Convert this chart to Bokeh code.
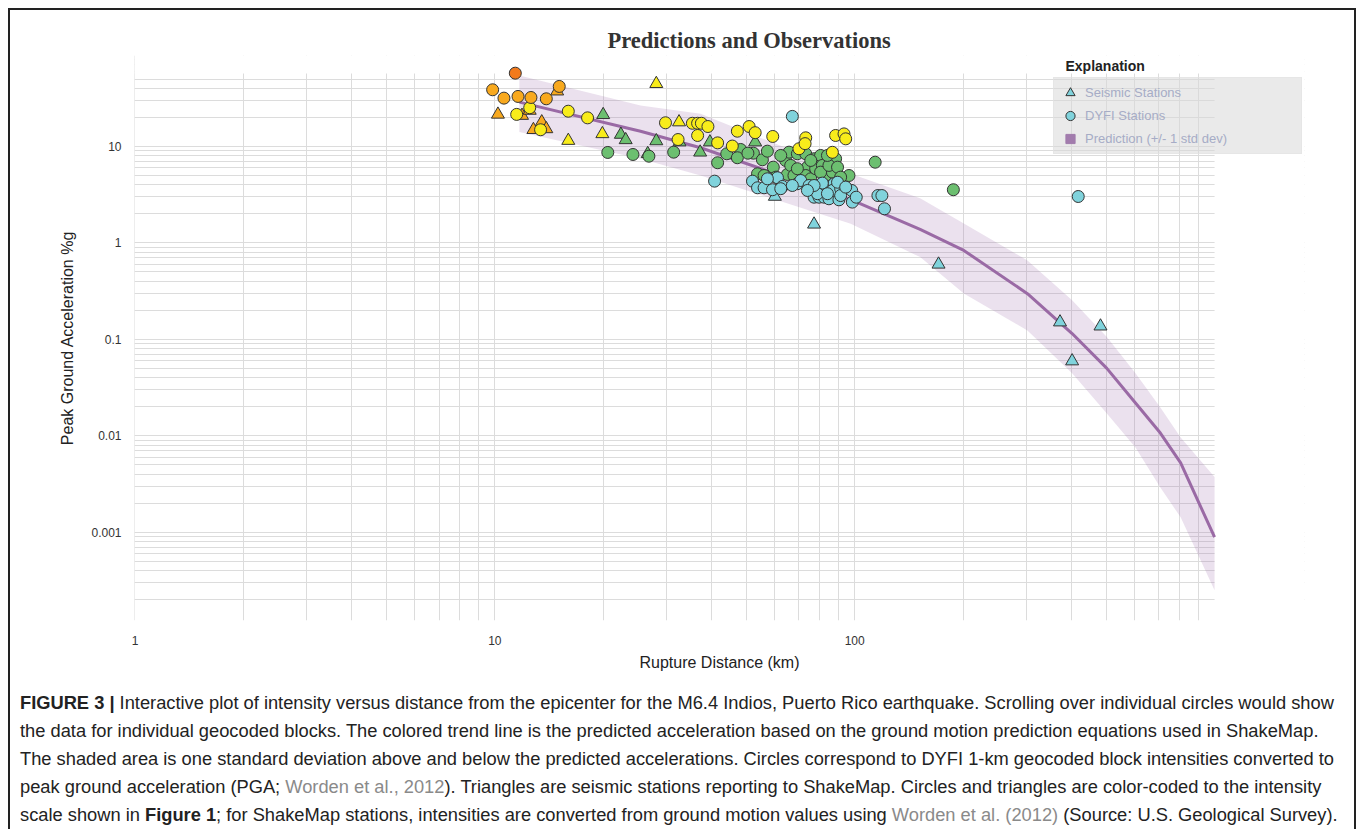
from bokeh.plotting import figure
from bokeh.models import (ColumnDataSource, FixedTicker, CustomJSTickFormatter,
                          Legend, LegendItem, Label, Div, BoxAnnotation)
from bokeh.layouts import column
from bokeh.embed import file_html
from bokeh.resources import INLINE

# ---------------- data ----------------
x_ticks = [1, 10, 100]
y_ticks = [0.001, 0.01, 0.1, 1, 10]

# prediction curve (km, %g) with +/- 1 std dev
pred_dist = [11.7, 25.4, 37.3, 97.5, 152, 201, 302, 402, 502, 603, 707, 805, 1000]
pred_pga = [28.8, 14.4, 9.70, 2.81, 1.38, 0.836, 0.298, 0.115, 0.0501, 0.0219, 0.0107, 0.00525, 0.000891]
pred_upper = [54.5, 26.6, 21.8, 5.21, 2.90, 1.59, 0.659, 0.254, 0.106, 0.0445, 0.0197, 0.00964, 0.00374]
pred_lower = [14.1, 7.46, 5.0, 1.58, 0.713, 0.300, 0.124, 0.0445, 0.0171, 0.0076, 0.00292, 0.00143, 0.000251]

# seismic stations (triangles)
seis_dist = [14.9, 10.2, 11.9, 12.5, 12.8, 13.5, 13.9,
             16.0, 19.9, 28.1, 32.5,
             20.0, 22.4, 23.1, 26.6, 28.1, 32.6, 37.2, 39.6, 52.9,
             60.0, 77.1, 171, 372, 402, 482]
seis_pga = [37.4, 21.5, 20.9, 23.6, 14.9, 17.9, 15.2,
            11.5, 13.5, 44.7, 17.9,
            21.3, 13.3, 11.7, 8.4, 11.4, 11.1, 8.7, 11.1, 11.1,
            3.03, 1.56, 0.60, 0.151, 0.0596, 0.137]
seis_mmi = [7, 7, 7, 7, 7, 7, 7,
            6, 6, 6, 6,
            5, 5, 5, 5, 5, 5, 5, 5, 5,
            4, 4, 4, 4, 4, 4]

# DYFI stations (circles)
dyfi_dist = [
    # MMI V (green)
    20.6, 24.2, 26.8, 31.4, 41.6, 44.1, 48.2, 47.2, 52.3, 50.5, 55.4, 57.2, 59.4, 53.7,
    65.0, 64.3, 66.4, 65.7, 69.3, 67.8, 73.1, 73.9, 73.1, 75.5, 77.1, 77.9, 80.4, 81.3,
    83.0, 88.5, 86.7, 96.4, 114, 188, 62.3, 69.3, 80.4, 84.8, 89.6, 84.0, 91.4, 75.5,
    56.0, 60.4,
    # MMI IV (light blue)
    40.8, 52.0, 53.7, 56.0, 59.1, 61.0, 63.0, 67.1, 69.3, 70.8, 76.3, 74.7, 77.1, 79.6,
    82.2, 84.0, 87.6, 84.8, 86.7, 90.4, 91.4, 91.4, 98.1, 98.5, 101, 116, 119, 121, 418,
    81.3, 78.8, 89.6, 94.4, 84.0, 77.1, 73.9, 67.1, 57.2, 62.3,
    # MMI VI (yellow)
    11.5, 12.5, 13.4, 16.0, 18.1, 29.8, 32.3, 35.4, 36.6, 37.5, 39.1, 36.6, 41.6, 45.7,
    47.2, 50.9, 52.9, 59.2, 70.0, 73.1, 72.8, 86.7, 88.5, 93.4, 94.4,
    # MMI VII (orange)
    9.86, 10.6, 11.6, 12.6, 13.9, 15.1,
    # MMI VIII (dark orange)
    11.4,
]
dyfi_pga = [
    8.67, 8.26, 7.93, 8.73, 6.78, 8.4, 9.31, 7.64, 8.52, 8.52, 7.28, 8.94, 6.10, 5.21,
    5.13, 7.16, 6.36, 8.73, 8.4, 5.0, 8.4, 6.10, 5.0, 4.62, 7.46, 5.88, 8.07, 6.36,
    5.0, 7.46, 5.42, 5.0, 6.87, 3.56, 8.07, 5.88, 5.42, 6.36, 6.10, 8.07, 4.81, 7.16,
    5.0, 4.81,
    4.37, 4.37, 3.73, 3.73, 3.56, 4.74, 3.85, 20.5, 4.11, 4.44, 3.65, 3.94, 2.98, 2.98,
    2.98, 3.79, 4.11, 2.87, 3.50, 2.80, 3.65, 3.10, 3.50, 2.65, 2.98, 3.10, 3.10, 2.26, 3.03,
    4.17, 3.24, 4.26, 3.79, 3.24, 3.94, 3.50, 3.94, 4.62, 3.65,
    21.5, 25.2, 14.9, 23.2, 19.8, 17.6, 11.8, 17.4, 17.4, 17.4, 16.1, 13.0, 10.9, 10.1,
    14.4, 16.1, 13.9, 12.7, 9.47, 12.3, 10.7, 8.7, 13.0, 13.5, 12.0,
    38.7, 31.7, 33.0, 32.2, 31.2, 41.9,
    57.5,
]
dyfi_mmi = [5] * 44 + [4] * 39 + [6] * 25 + [7] * 6 + [8] * 1

mmi_colors = {4: "#80d3dc", 5: "#6cbf70", 6: "#f8ec1b", 7: "#f8a91e", 8: "#f27a1c"}

# ---------------- figure ----------------
x_minor = [m * 10 ** e for e in range(0, 3) for m in range(2, 10)]
y_minor = [m * 10.0 ** e for e in range(-4, 2) for m in range(2, 10)]

X_MAX = 1000      # right end of the plotted distance axis
Y_MAX = 57.1      # top end of the plotted acceleration axis

p = figure(width=1344, height=670, x_axis_type="log", y_axis_type="log",
           x_range=(0.997, 1778), y_range=(1.22e-4, 87.7),
           output_backend="svg", toolbar_location=None,
           min_border_left=124, min_border_right=50,
           min_border_top=45, min_border_bottom=60)
p.outline_line_color = None
p.background_fill_color = "white"
p.border_fill_color = "white"

p.title.text = "Predictions and Observations"
p.title.align = "left"
p.title.offset = 473
p.title.standoff = 6
p.title.text_font = "Liberation Serif"
p.title.text_font_size = "22.5px"
p.title.text_font_style = "bold"
p.title.text_color = "#333333"

xt = FixedTicker(ticks=x_ticks, minor_ticks=x_minor)
yt = FixedTicker(ticks=y_ticks, minor_ticks=y_minor)
p.xaxis.ticker = xt
p.yaxis.ticker = yt
p.xgrid.ticker = xt
p.ygrid.ticker = yt
p.xaxis.formatter = CustomJSTickFormatter(code="return tick.toString();")
p.yaxis.formatter = CustomJSTickFormatter(code="return tick.toString();")

for ax in (p.xaxis[0], p.yaxis[0]):
    ax.axis_line_color = None
    ax.major_tick_line_color = None
    ax.minor_tick_line_color = None
    ax.major_tick_out = 0
    ax.minor_tick_out = 0
    ax.major_label_text_font = "Liberation Sans"
    ax.major_label_text_font_size = "12px"
    ax.major_label_text_color = "#333333"
    ax.axis_label_text_font = "Liberation Sans"
    ax.axis_label_text_font_size = "16px"
    ax.axis_label_text_font_style = "normal"
    ax.axis_label_text_color = "#222222"

p.xaxis.axis_label = "Rupture Distance (km)"
p.yaxis.axis_label = "Peak Ground Acceleration %g"
p.xaxis.major_label_standoff = 15
p.xaxis.axis_label_standoff = 6
p.yaxis.major_label_standoff = 13
p.yaxis.axis_label_standoff = 12

for g in (p.xgrid[0], p.ygrid[0]):
    g.grid_line_color = "#dcdcdc"
    g.grid_line_width = 1
    g.minor_grid_line_color = "#dcdcdc"
    g.minor_grid_line_width = 1
    g.level = "image"

# white masks so the grid stops at the axis limits
p.add_layout(BoxAnnotation(left=X_MAX, fill_color="white", fill_alpha=1,
                           line_color=None, level="underlay"))
p.add_layout(BoxAnnotation(bottom=Y_MAX, fill_color="white", fill_alpha=1,
                           line_color=None, level="underlay"))

# prediction band and line
pred_src = ColumnDataSource(dict(x=pred_dist, y=pred_pga, lo=pred_lower, hi=pred_upper))
p.varea(x="x", y1="lo", y2="hi", source=pred_src, fill_color="#9b6aa8", fill_alpha=0.2)
p.line(x="x", y="y", source=pred_src, line_color="#9a6aa5", line_width=3)

seis_src = ColumnDataSource(dict(x=seis_dist, y=seis_pga,
                                 c=[mmi_colors[m] for m in seis_mmi]))
p.scatter(x="x", y="y", source=seis_src, marker="triangle", size=13,
          fill_color="c", line_color="#333333", line_width=1)

dyfi_src = ColumnDataSource(dict(x=dyfi_dist, y=dyfi_pga,
                                 c=[mmi_colors[m] for m in dyfi_mmi]))
p.scatter(x="x", y="y", source=dyfi_src, marker="circle", size=12,
          fill_color="c", line_color="#333333", line_width=1)

# legend: hidden renderers with a single fixed colour, used only for the key
r_l1 = p.scatter(x="x", y="y", source=seis_src, marker="triangle", fill_color=mmi_colors[4],
                 line_color="#333333", visible=False)
r_l2 = p.scatter(x="x", y="y", source=dyfi_src, marker="circle", fill_color=mmi_colors[4],
                 line_color="#333333", visible=False)
r_l3 = p.scatter(x="x", y="y", source=pred_src, marker="square", fill_color="#a27cad",
                 line_color="#a27cad", visible=False)
legend = Legend(items=[LegendItem(label="Seismic Stations", renderers=[r_l1]),
                       LegendItem(label="DYFI Stations", renderers=[r_l2]),
                       LegendItem(label="Prediction (+/- 1 std dev)", renderers=[r_l3])],
                location=(919, 466), margin=0, padding=3, spacing=0,
                glyph_width=26, glyph_height=23, label_height=22, label_width=213,
                label_standoff=2, click_policy="none",
                inactive_fill_alpha=0,
                background_fill_color="#d9d9d9", background_fill_alpha=0.55,
                border_line_color="#e2e2e2", border_line_alpha=0.6,
                label_text_font="Liberation Sans", label_text_font_size="13px",
                label_text_color="#a6acc6")
p.add_layout(legend)

p.add_layout(Label(x=931, y=555, x_units="screen", y_units="screen",
                   text="Explanation", text_font="Liberation Sans",
                   text_font_size="14px", text_font_style="bold",
                   text_color="#222222", text_baseline="middle"))

# ---------------- caption ----------------
gray = "color:#8a8a8a;"
caption = (
    '<div style="font-family:\'Liberation Sans\',Arial,sans-serif;font-size:18.3px;'
    'line-height:28px;color:#222;white-space:nowrap;">'
    '<b>FIGURE 3 |</b> Interactive plot of intensity versus distance from the epicenter for the '
    'M6.4 Indios, Puerto Rico earthquake. Scrolling over individual circles would show<br>'
    'the data for individual geocoded blocks. The colored trend line is the predicted acceleration '
    'based on the ground motion prediction equations used in ShakeMap.<br>'
    'The shaded area is one standard deviation above and below the predicted accelerations. '
    'Circles correspond to DYFI 1-km geocoded block intensities converted to<br>'
    'peak ground acceleration (PGA; <span style="' + gray + '">Worden et al., 2012</span>). '
    'Triangles are seismic stations reporting to ShakeMap. Circles and triangles are color-coded '
    'to the intensity<br>'
    'scale shown in <b>Figure 1</b>; for ShakeMap stations, intensities are converted from ground '
    'motion values using <span style="' + gray + '">Worden et al. (2012)</span> '
    '(Source: U.S. Geological Survey).'
    '</div>'
)
div = Div(text=caption, width=1320, height=140, margin=(9, 8, 0, 10))

layout = column(p, div, margin=(8, 0, 0, 8),
                styles={"border-top": "2px solid #222",
                        "border-left": "2px solid #222",
                        "border-right": "2px solid #222"})

open("out.html", "w").write(file_html(layout, INLINE))
